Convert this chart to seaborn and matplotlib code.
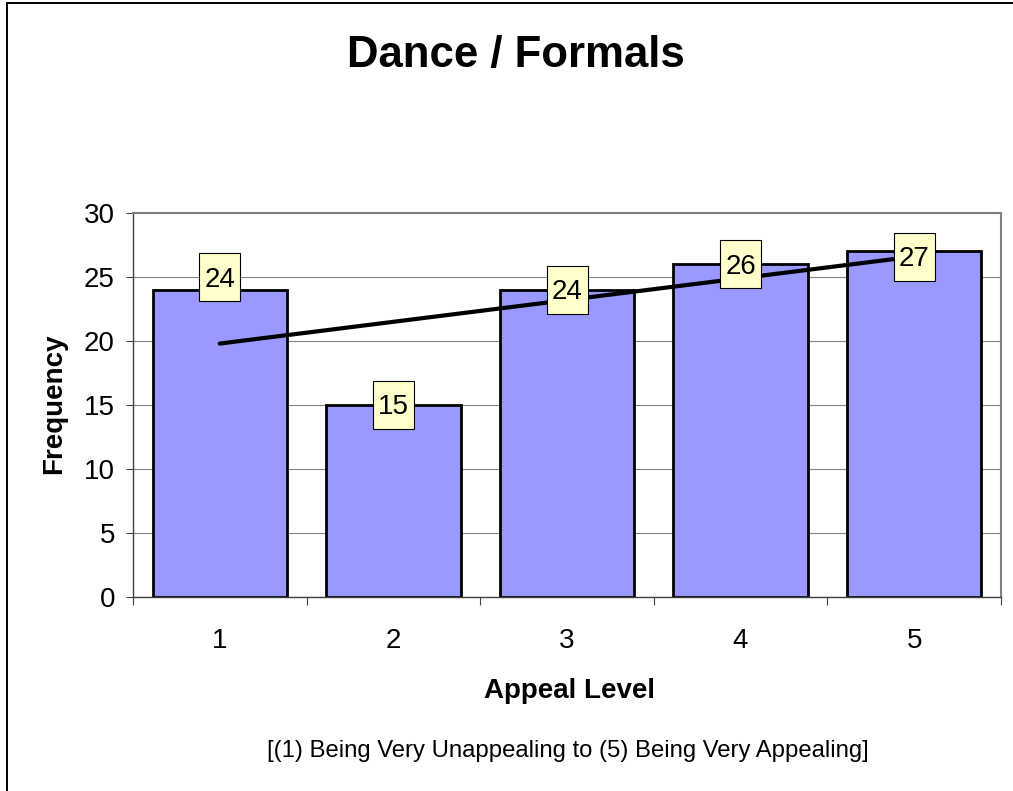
import numpy as np
import pandas as pd
import seaborn as sns
import matplotlib.pyplot as plt
from matplotlib.patches import Rectangle
from matplotlib.lines import Line2D
from matplotlib.transforms import ScaledTranslation

# Survey responses: how appealing "Dance / Formals" is, on a 1-5 scale
levels = ["1", "2", "3", "4", "5"]
level_values = [1, 2, 3, 4, 5]
frequency = [24, 15, 24, 26, 27]
y_ticks = [0, 5, 10, 15, 20, 25, 30]

title = "Dance / Formals"
x_title = "Appeal Level"
y_title = "Frequency"
scale_note = "[(1) Being Very Unappealing to (5) Being Very Appealing]"

sns.set_theme(style="white")
plt.rcParams["font.family"] = ["Liberation Sans", "DejaVu Sans"]
plt.rcParams["text.color"] = "black"

W, H = 1013, 791
fig = plt.figure(figsize=(W / 100, H / 100), dpi=100)
fig.patch.set_facecolor("white")
ax = fig.add_axes([133 / W, 1 - 597 / H, 868 / W, 384 / H])

df = pd.DataFrame({"level": levels, "frequency": frequency})
sns.barplot(data=df, x="level", y="frequency", color="#9999FF", saturation=1,
            edgecolor="black", linewidth=2, width=0.775, ax=ax, zorder=2)

# Linear trend through the counts
coef = np.polyfit(level_values, frequency, 1)
trend = np.polyval(coef, level_values)
ax.plot(np.arange(len(levels)), trend, color="black", lw=3,
        solid_capstyle="round", zorder=3)

# Value labels in pale yellow boxes at the bar tops
shift_in = [0.125, 0.0, 0.0, 0.0, -0.055]   # vertical nudge, inches
box_w, box_h = 0.41, 0.48
for i, (v, s) in enumerate(zip(frequency, shift_in)):
    tr = fig.dpi_scale_trans + ScaledTranslation(i, v, ax.transData)
    ax.add_patch(Rectangle((-box_w / 2, s - box_h / 2), box_w, box_h,
                           transform=tr, facecolor="#FFFFCC",
                           edgecolor="black", lw=0.8, zorder=4, clip_on=False))
    ax.text(0, s - 0.095, str(v), transform=tr, ha="center", va="baseline",
            fontsize=20, color="black", zorder=5)

# Axes styling
ax.set_xlim(-0.5, len(levels) - 0.5)
ax.set_ylim(y_ticks[0], y_ticks[-1])
ax.set_yticks(y_ticks)
ax.set_xticks(range(len(levels)))
ax.set_xticklabels(levels)
ax.set_xticks(np.arange(-0.5, len(levels), 1), minor=True)
ax.set_xlabel("")
ax.set_ylabel("")
ax.tick_params(axis="x", which="major", length=0, pad=22, labelsize=20,
               labelcolor="black")
ax.tick_params(axis="x", which="minor", length=6, width=0.8, color="#404040",
               direction="out", bottom=True)
ax.tick_params(axis="y", which="major", length=5, width=0.8, color="#404040",
               direction="out", left=True, pad=8, labelsize=20,
               labelcolor="black")
ax.yaxis.grid(True, color="#808080", lw=0.8)
ax.set_axisbelow(True)
for side in ["top", "right"]:
    ax.spines[side].set_color("#808080")
    ax.spines[side].set_linewidth(1.5)
for side in ["left", "bottom"]:
    ax.spines[side].set_color("#404040")
    ax.spines[side].set_linewidth(1.0)
ax.set_facecolor("white")

# Titles and note
fig.text(516 / W, 1 - 67 / H, title, ha="center", va="baseline",
         fontsize=31.5, fontweight="bold", color="black")
fig.text(569 / W, 1 - 698 / H, x_title, ha="center", va="baseline",
         fontsize=20, fontweight="bold", color="black")
fig.text(61 / W, 1 - 404 / H, y_title, ha="center", va="baseline",
         rotation=90, rotation_mode="anchor", fontsize=20, fontweight="bold",
         color="black")
fig.text(568 / W, 1 - 757 / H, scale_note, ha="center", va="baseline",
         fontsize=17.2, color="black")

# Chart area border
fig.add_artist(Line2D([6.5 / W, 6.5 / W], [0, 1 - 2.5 / H],
                      transform=fig.transFigure, color="black", lw=1.4))
fig.add_artist(Line2D([6.5 / W, 1], [1 - 2.5 / H, 1 - 2.5 / H],
                      transform=fig.transFigure, color="black", lw=1.4))

fig.savefig("out.png", dpi=100)
